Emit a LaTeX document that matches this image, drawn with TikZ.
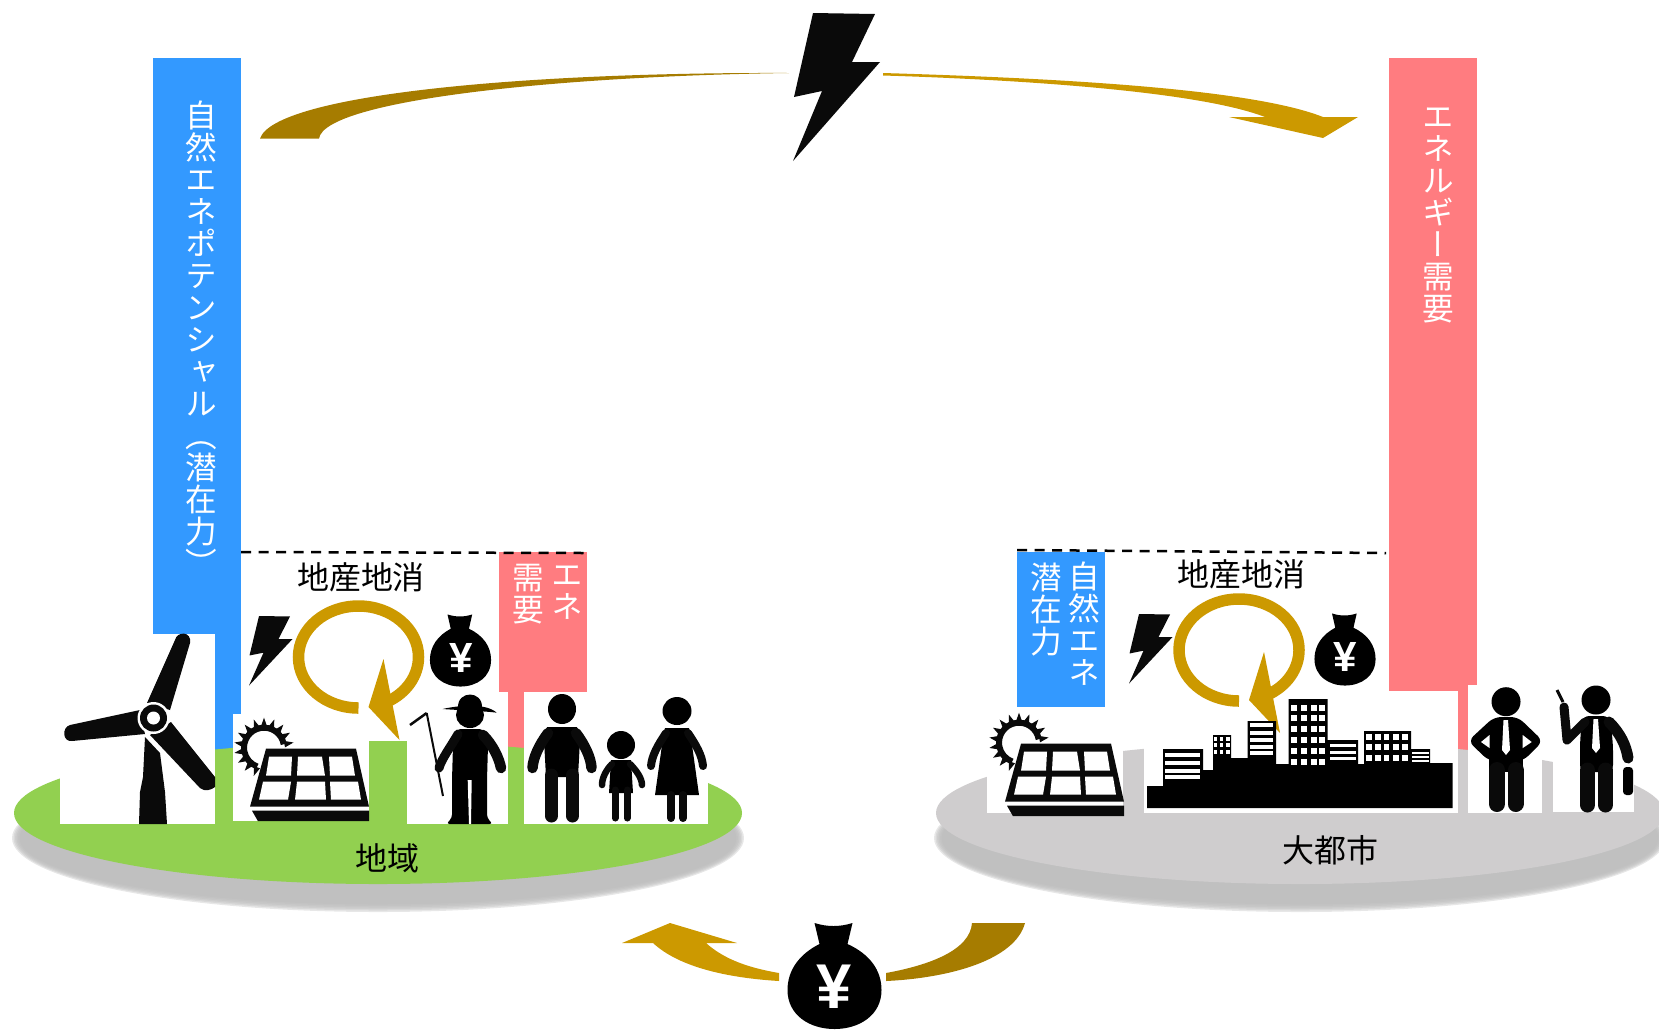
\documentclass[tikz,border=0pt]{standalone}
\usepackage{fontspec}
\usepackage{xcolor}
\setmainfont{Noto Sans CJK JP}
\newfontfamily\jpvert[RawFeature=+vert]{Noto Sans CJK JP}
\newfontfamily\yenfont{Liberation Sans}
\usetikzlibrary{positioning, arrows.meta, calc}
\definecolor{barblue}{HTML}{3399FF}
\definecolor{barpink}{HTML}{FF7C80}
\definecolor{landgreen}{HTML}{92D050}
\definecolor{landgray}{HTML}{CFCDCE}
\definecolor{shadowgray}{HTML}{BBBBBB}
\definecolor{gold}{HTML}{CC9900}
\definecolor{darkgold}{HTML}{A67C00}
\definecolor{ink}{HTML}{0A0A0A}
\tikzset{
    coltext/.style={anchor=north, inner sep=0pt, align=center, text=white,
        font={\jpvert\fontsize{9}{9.1}\selectfont\lineskiplimit=-20pt}},
    jplabel/.style={inner sep=0pt, font={\fontsize{9.1}{9.1}\selectfont}},
    yenbig/.style={inner sep=0pt, text=white, font={\yenfont\bfseries\fontsize{18}{18}\selectfont}},
    yensmall/.style={inner sep=0pt, text=white, font={\yenfont\bfseries\fontsize{12}{12}\selectfont}},
    limb/.style={draw=ink, line cap=round, line join=round, line width=0.9mm},
    dashline/.style={line width=0.25mm, dash pattern=on 1mm off 0.75mm},
    bolt/.pic={\fill[ink] (18,0)--(80,1)--(57,49)--(85,49)--(-2,148)--(27,78)--(-1,84)--cycle;},
    moneybag/.pic={\fill[black] (-20,-67)--(-15,-46) .. controls (-35,-36) and (-47,-20) .. (-47,0)
        .. controls (-47,25) and (-25,39) .. (0,39) .. controls (25,39) and (47,25) .. (47,0)
        .. controls (47,-20) and (35,-36) .. (13,-46)--(18,-67) .. controls (5,-63) and (-7,-63) .. cycle;},
    goldloop/.pic={
        \draw[gold, line width=1.15mm] (90:60 and 51) arc[start angle=90, end angle=422, x radius=60, y radius=51];
        \fill[gold] (25,2)--(41,83)--(10,50)--cycle;},
    solarpanel/.pic={
        \fill[ink] (16,-58)--(106,-58)--(119,0)--(0,0)--cycle;
        \fill[ink] (2,4)--(119,4)--(119,14.5)--(8,14.5)--cycle;
        \foreach \a/\b/\c/\d/\e/\f/\g/\h in {19/42/41/16/-50/-50/-31/-31, 48/72/75/47/-50/-50/-31/-31, 79/102/105/80/-50/-50/-31/-31,
            13/41/38/9/-25/-25/-7/-7, 47/75/76/45/-25/-25/-7/-7, 80/108/111/81/-25/-25/-7/-7}
            \fill[white] (\a,\e)--(\b,\f)--(\c,\g)--(\d,\h)--cycle;
        \begin{scope}[shift={(14,-59)}]
        \draw[ink, line width=0.6mm] (-10:20) arc[start angle=-10, end angle=-250, radius=20];
        \foreach \t in {-10,-30,...,-250}
            \fill[ink] (\t-9:21)--(\t:30)--(\t+9:21)--cycle;
        \end{scope}},
}
\begin{document}
\begin{tikzpicture}[x=0.1mm, y=-0.1mm]
\useasboundingbox (0,0) rectangle (1659,1029);

\fill[barblue] (153,58) rectangle (241,760);
\fill[barpink] (499,552) rectangle (587,692);
\fill[barpink] (508,692) rectangle (524,760);
\fill[barpink] (1389,58) rectangle (1477,760);

\foreach \d in {3,1.5,0,-1.5,-3,-4.5} {
    \fill[shadowgray, opacity=0.35] (378,838) ellipse[x radius=363+\d, y radius=71+\d];
    \fill[shadowgray, opacity=0.35] (1300,838) ellipse[x radius=363+\d, y radius=71+\d];
}
\fill[landgreen] (378,813) ellipse[x radius=364, y radius=71];
\fill[landgray] (1300,813) ellipse[x radius=364, y radius=71];
\fill[landgreen] (369,741) rectangle (407,835);

\fill[white] (60,634) rectangle (215,824);
\fill[white] (233,714) rectangle (369,821);
\fill[white] (407,692) rectangle (508,824);
\fill[white] (524,692) rectangle (708,824);
\fill[white] (987,707) rectangle (1123,813);
\fill[white] (1144,691) rectangle (1458,813);
\fill[white] (1468,685) rectangle (1542,813);
\fill[white] (1553,685) rectangle (1634,812);
\fill[barblue] (1017,552) rectangle (1105,707);

\draw[dashline] (241,552) -- (587,553);
\draw[dashline] (1017,550) -- (1386,553);

\node[coltext] (potential) at (201,100) {自\\然\\エ\\ネ\\ポ\\テ\\ン\\シ\\ャ\\ル\\（\\潜\\在\\力\\）};
\node[coltext] (demand) at (1438,107) {エ\\ネ\\ル\\ギ\\ー\\需\\要};
\node[coltext] (demandshort) at (567,565) {エ\\ネ};
\node[coltext] (demandtwo) at (528,563) {需\\要};
\node[coltext] (nature) at (1084,561) {自\\然\\エ\\ネ};
\node[coltext] (latent) at (1046,562) {潜\\在\\力};

\node[jplabel] (locala) at (361,577) {地産地消};
\node[jplabel] (localb) at (1241,574) {地産地消};
\node[jplabel] (region) at (387,858) {地域};
\node[jplabel] (metro) at (1330,850) {大都市};

\pic[xscale=0.5, yscale=0.47] at (250,616) {bolt};
\pic[xscale=0.5, yscale=0.47] at (1130,614) {bolt};
\pic at (795,13) {bolt};
\pic[xscale=0.65, yscale=0.68] at (460.5,660) {moneybag};
\pic[xscale=0.65, yscale=0.68] at (1345,659) {moneybag};
\pic at (834.5,990) {moneybag};
\node[yensmall] (yena) at (461,658) {¥};
\node[yensmall] (yenb) at (1345.5,657) {¥};
\node[yenbig] (yenc) at (834,987) {¥};

\pic at (358.5,657) {goldloop};
\pic at (1239,650) {goldloop};
\pic at (250,806.7) {solarpanel};
\pic at (1005,801.7) {solarpanel};

\fill[darkgold] (260,138.5) .. controls (275,95) and (520,72) .. (789,73)
    .. controls (560,76) and (325,100) .. (319,138.5) -- cycle;
\fill[gold] (883,73) .. controls (1050,78) and (1250,88) .. (1323,117) -- (1358,117) -- (1323,138) -- (1229,117) -- (1265,117)
    .. controls (1200,92) and (1030,80) .. (883,75.5) -- cycle;
\fill[gold] (779,973) .. controls (750,968) and (725,960) .. (706,943) -- (737,943) -- (670,923) -- (622,943) -- (653,943)
    .. controls (680,968) and (730,978) .. (779,981) -- cycle;
\fill[darkgold] (886,973) .. controls (930,965) and (970,950) .. (972,923) -- (1025,923)
    .. controls (1015,960) and (950,978) .. (886,981) -- cycle;

\fill[ink] (147,703) -- (175,640) .. controls (177,631) and (192,631) .. (190,643) -- (170,710) -- cycle;
\fill[ink] (140,710) -- (70,725) .. controls (62,727) and (62,742) .. (72,741) -- (145,734) -- cycle;
\fill[ink] (150,735) -- (200,788) .. controls (205,792) and (211,790) .. (215,787) -- (215,777) -- (171,722) -- cycle;
\fill[ink] (145,737) -- (160,753) -- (165,792) -- (167,824) -- (139,824) -- (140,792) -- (143,777) -- cycle;
\fill[white] (153.5,718) ellipse[x radius=16, y radius=16];
\fill[ink] (153.5,718) ellipse[x radius=13.5, y radius=13.5];
\fill[white] (153.5,718) ellipse[x radius=6.5, y radius=6.5];

\fill[black] (470,715) ellipse[x radius=14, y radius=13];
\fill[black] (458,708) .. controls (457,690) and (483,690) .. (482,708) -- cycle;
\fill[black] (442.7,709) .. controls (455,706) and (485,702) .. (496.7,712.7) .. controls (485,711) and (455,710) .. cycle;
\fill[black, rounded corners=1pt] (457,729) -- (483,729) -- (488,745) -- (487,780) -- (487,818) -- (493,824) -- (446,824) -- (452,818) -- (452,780) -- (453,745) -- cycle;
\fill[white] (467.7,780) -- (471.7,780) -- (471,824) -- (469,824) -- cycle;
\draw[limb] (458,734) .. controls (450,748) and (442,758) .. (439,768);
\draw[limb, line width=1.05mm] (483,735) .. controls (493,745) and (499,758) .. (501,768);
\draw[ink, line width=0.2mm] (426.7,713) -- (443,796);
\draw[ink, line width=0.25mm] (426.7,713) -- (410,725);

\fill[black] (562,709) ellipse[x radius=14, y radius=15];
\fill[black] (547,727) -- (577,727) -- (580,740) -- (578,777) -- (546,777) -- (544,740) -- cycle;
\draw[limb, line width=1.05mm] (548,733) .. controls (539,745) and (533,758) .. (532.5,768);
\draw[limb, line width=1.05mm] (576,733) .. controls (585,745) and (591,758) .. (591.5,768);
\draw[limb, line width=1.3mm] (551.5,775) -- (551.5,816);
\draw[limb, line width=1.3mm] (572.5,775) -- (572.5,816);

\fill[black] (621,745) ellipse[x radius=14, y radius=14];
\fill[black] (611,760) -- (631,760) -- (633,793) -- (609,793) -- cycle;
\draw[limb, line width=0.65mm] (612,764) .. controls (606,770) and (602,778) .. (602,785);
\draw[limb, line width=0.65mm] (630,764) .. controls (636,770) and (642,778) .. (642,785);
\draw[limb, line width=0.7mm] (615,790) -- (615,818);
\draw[limb, line width=0.7mm] (627,790) -- (627,818);

\fill[black] (677,711) ellipse[x radius=14.5, y radius=14];
\fill[black] (665,728) -- (689,728) -- (692,745) -- (699,795) -- (655,795) -- (662,745) -- cycle;
\draw[limb, line width=0.8mm] (666,733) .. controls (658,745) and (652,755) .. (651,766);
\draw[limb, line width=0.8mm] (688,733) .. controls (696,745) and (702,755) .. (703,766);
\draw[limb, line width=0.8mm] (671,795) -- (671,818);
\draw[limb, line width=0.8mm] (683,795) -- (683,818);

\fill[black] (1147,808) -- (1147,786) -- (1163,786) -- (1163,749) -- (1203,749) -- (1203,770) -- (1213,770) -- (1213,735) -- (1231,735)
    -- (1231,758) -- (1247.5,758) -- (1247.5,721) -- (1276,721) -- (1276,764) -- (1288.5,764) -- (1288.5,699) -- (1327.6,699)
    -- (1327.6,740) -- (1358,740) -- (1358,764) -- (1364,764) -- (1364,731) -- (1411,731) -- (1411,749) -- (1430,749)
    -- (1430,763) -- (1452.5,763) -- (1452.5,808) -- cycle;
\foreach \y in {755,763,771,777}
    \fill[white] (1165,\y-1.7) rectangle (1200,\y+1.7);
\foreach \x in {1215.5,1221.5,1228} \foreach \y in {739,745,752}
    \fill[white] (\x-1.7,\y-1.7) rectangle (\x+1.7,\y+1.7);
\foreach \y in {725,733,740,747,753}
    \fill[white] (1250,\y-1.7) rectangle (1273,\y+1.7);
\foreach \x in {1294,1304,1313.5,1322} \foreach \y in {708,718,729,740,751,762}
    \fill[white] (\x-3,\y-3) rectangle (\x+3,\y+3);
\foreach \y in {745,752,758}
    \fill[white] (1330,\y-1.5) rectangle (1356,\y+1.5);
\foreach \x in {1369,1378,1386.5,1396,1405} \foreach \y in {737,747,758}
    \fill[white] (\x-2.7,\y-2.7) rectangle (\x+2.7,\y+2.7);
\foreach \y in {753,757,761}
    \fill[white] (1412,\y-1) rectangle (1429,\y+1);

\fill[black] (1506,701.7) ellipse[x radius=14.5, y radius=14.5];
\fill[black, rounded corners=2pt] (1494,717) -- (1518,717) -- (1543,741) -- (1523,761) -- (1489,761) -- (1468,741) -- cycle;
\fill[black] (1489,755) rectangle (1523,772);
\fill[white] (1481,742) -- (1489.5,735) -- (1489.5,748) -- cycle;
\fill[white] (1531.7,742) -- (1522.7,735) -- (1522.7,748) -- cycle;
\draw[limb, line width=1.6mm] (1497,770) -- (1497,804);
\draw[limb, line width=1.6mm] (1515.5,770) -- (1515.5,804);
\fill[white] (1503.5,720) -- (1508,720) -- (1510,750) -- (1506,755) -- (1502,750) -- cycle;

\fill[black] (1596,700) ellipse[x radius=14.5, y radius=14.5];
\fill[black, rounded corners=2pt] (1582,716) -- (1610,716) -- (1613,745) -- (1613,772) -- (1580,772) -- (1580,743) -- cycle;
\draw[limb] (1585,722) -- (1567,740) -- (1564,707);
\draw[ink, line width=0.3mm] (1557,690) -- (1563,702);
\draw[limb, line width=1.1mm] (1609,722) .. controls (1620,733) and (1626,745) .. (1628,758);
\draw[limb, line width=1.5mm] (1587.5,770) -- (1587.5,805);
\draw[limb, line width=1.5mm] (1605.5,770) -- (1605.5,805);
\fill[white] (1593.5,719) -- (1598,719) -- (1600,748) -- (1596,753) -- (1592,748) -- cycle;
\fill[black, rounded corners=1pt] (1623,767) rectangle (1633,795);
\end{tikzpicture}
\end{document}
